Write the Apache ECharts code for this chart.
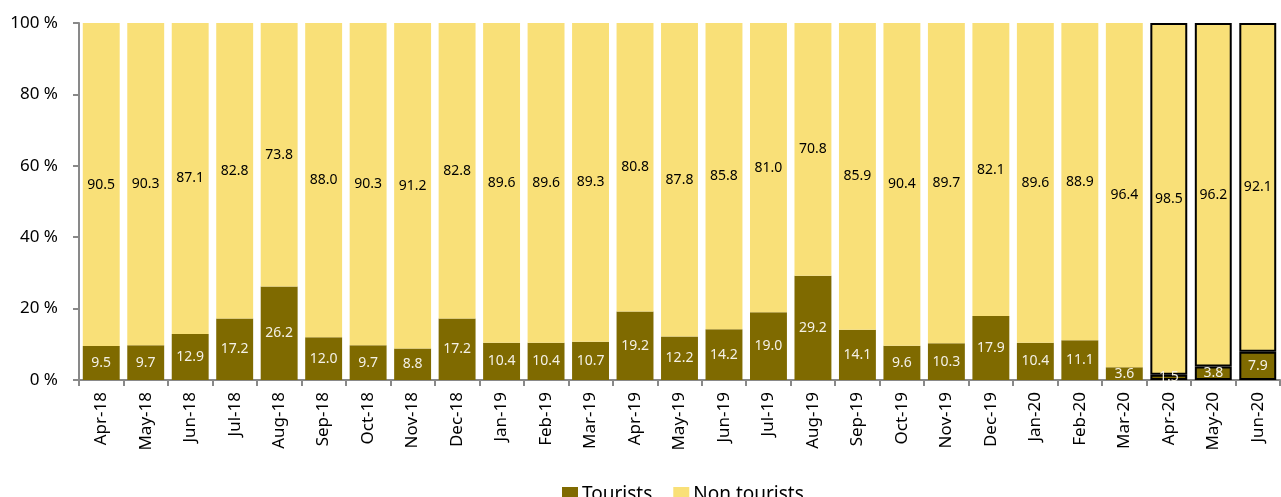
<!DOCTYPE html>
<html>
<head>
<meta charset="utf-8">
<script src="https://cdn.jsdelivr.net/npm/echarts@6/dist/echarts.min.js"></script>
<style>
  html, body { margin: 0; padding: 0; background: #ffffff; }
  #chart { width: 1281px; height: 497px; }
</style>
</head>
<body>
<div id="chart"></div>
<script>
// Monthly share of tourists vs non tourists (per cent)
const months = ['Apr-18','May-18','Jun-18','Jul-18','Aug-18','Sep-18','Oct-18','Nov-18','Dec-18',
  'Jan-19','Feb-19','Mar-19','Apr-19','May-19','Jun-19','Jul-19','Aug-19','Sep-19',
  'Oct-19','Nov-19','Dec-19','Jan-20','Feb-20','Mar-20','Apr-20','May-20','Jun-20'];
const tourists = [9.5, 9.7, 12.9, 17.2, 26.2, 12.0, 9.7, 8.8, 17.2,
  10.4, 10.4, 10.7, 19.2, 12.2, 14.2, 19.0, 29.2, 14.1,
  9.6, 10.3, 17.9, 10.4, 11.1, 3.6, 1.5, 3.8, 7.9];
const nonTourists = [90.5, 90.3, 87.1, 82.8, 73.8, 88.0, 90.3, 91.2, 82.8,
  89.6, 89.6, 89.3, 80.8, 87.8, 85.8, 81.0, 70.8, 85.9,
  90.4, 89.7, 82.1, 89.6, 88.9, 96.4, 98.5, 96.2, 92.1];
// Months shown with an outline (provisional figures)
const outlinedMonths = ['Apr-20', 'May-20', 'Jun-20'];
const yTicks = [0, 20, 40, 60, 80, 100];

const FONT = 'Noto Sans';
const outline = { borderColor: '#000000', borderWidth: 2 };

function toItems(values) {
  return values.map((v, i) => outlinedMonths.includes(months[i])
    ? { value: v, itemStyle: outline }
    : v);
}

const chart = echarts.init(document.getElementById('chart'), null, { renderer: 'canvas' });
chart.setOption({
  animation: false,
  textStyle: { fontFamily: FONT },
  grid: { left: 79, right: 1, top: 23, bottom: 117, containLabel: false },
  legend: {
    data: ['Tourists', 'Non tourists'],
    left: 557,
    top: 480,
    itemWidth: 16,
    itemHeight: 15,
    itemGap: 21,
    icon: 'rect',
    textStyle: { fontFamily: FONT, fontSize: 19, color: '#000000', padding: [0, 0, 0, -1] }
  },
  xAxis: {
    type: 'category',
    data: months,
    axisLine: { show: true, lineStyle: { color: '#898989', width: 2 } },
    axisTick: { show: true, length: 6, alignWithLabel: false, lineStyle: { color: '#898989', width: 2 } },
    axisLabel: { rotate: 90, margin: 12, fontFamily: FONT, fontSize: 17, color: '#000000', interval: 0 },
    splitLine: { show: false }
  },
  yAxis: {
    type: 'value',
    min: 0,
    max: 100,
    interval: 20,
    axisLine: { show: true, lineStyle: { color: '#898989', width: 2 } },
    axisTick: { show: true, length: 6, lineStyle: { color: '#898989', width: 2 } },
    axisLabel: {
      margin: 21,
      fontFamily: FONT,
      fontSize: 17,
      color: '#000000',
      formatter: v => yTicks.includes(v) ? v + ' %' : ''
    },
    splitLine: { show: false }
  },
  series: [
    {
      name: 'Tourists',
      type: 'bar',
      stack: 'total',
      barCategoryGap: '17%',
      itemStyle: { color: '#7F6A00' },
      label: {
        show: true,
        position: 'inside',
        fontFamily: FONT,
        fontSize: 14,
        color: '#F4F1E6',
        formatter: p => p.value.toFixed(1)
      },
      data: toItems(tourists)
    },
    {
      name: 'Non tourists',
      type: 'bar',
      stack: 'total',
      barCategoryGap: '17%',
      itemStyle: { color: '#F9E078' },
      label: {
        show: true,
        position: 'inside',
        fontFamily: FONT,
        fontSize: 14,
        color: '#000000',
        formatter: p => p.value.toFixed(1)
      },
      data: toItems(nonTourists)
    }
  ]
});
</script>
</body>
</html>
